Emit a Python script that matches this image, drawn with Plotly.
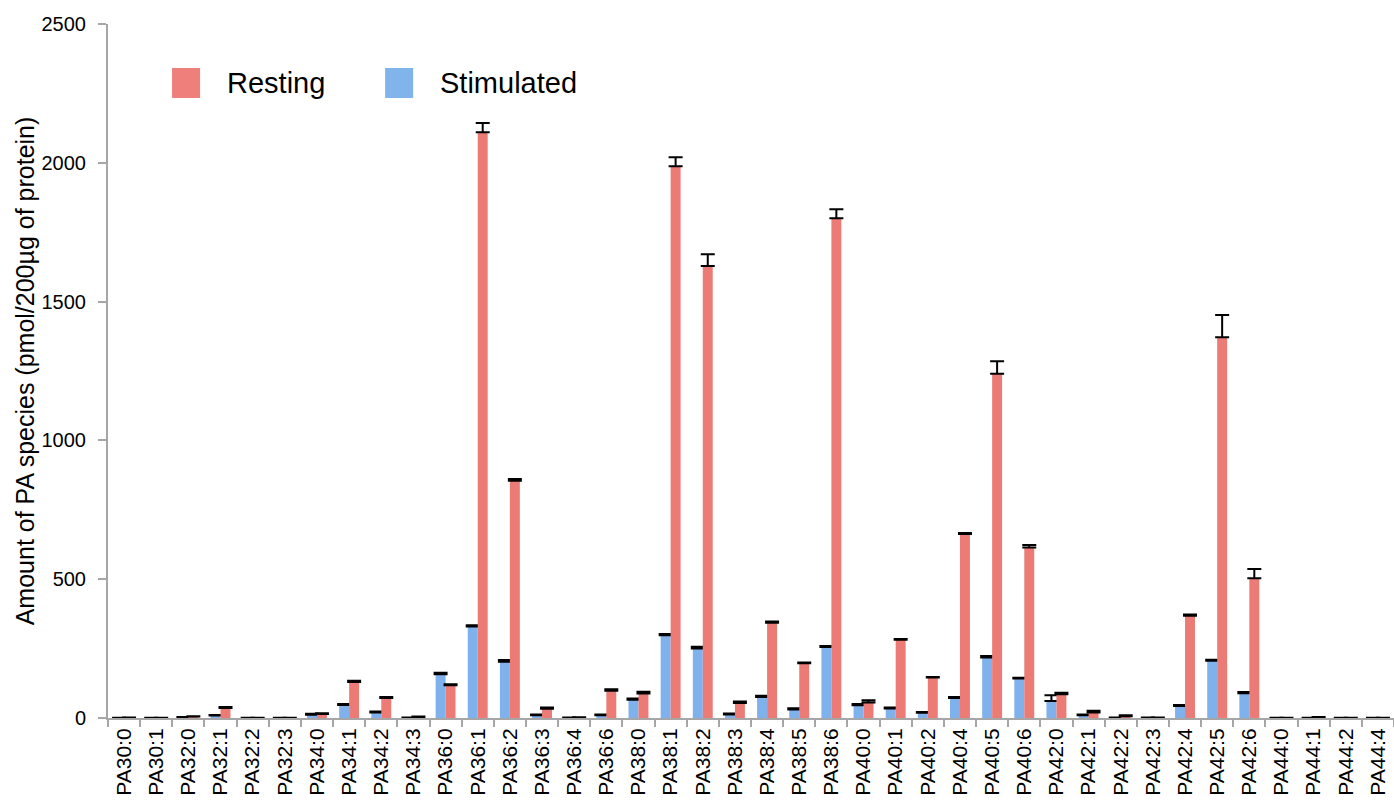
import plotly.graph_objects as go

categories = ["PA30:0", "PA30:1", "PA32:0", "PA32:1", "PA32:2", "PA32:3", "PA34:0", "PA34:1",
              "PA34:2", "PA34:3", "PA36:0", "PA36:1", "PA36:2", "PA36:3", "PA36:4", "PA36:6",
              "PA38:0", "PA38:1", "PA38:2", "PA38:3", "PA38:4", "PA38:5", "PA38:6", "PA40:0",
              "PA40:1", "PA40:2", "PA40:4", "PA40:5", "PA40:6", "PA42:0", "PA42:1", "PA42:2",
              "PA42:3", "PA42:4", "PA42:5", "PA42:6", "PA44:0", "PA44:1", "PA44:2", "PA44:4"]

stimulated = [1, 1, 3, 9, 1, 1, 12, 47, 20, 2, 158, 330, 203, 10, 2, 10, 66, 298, 250, 13,
              76, 31, 256, 46, 34, 19, 72, 218, 142, 61, 10, 2, 2, 43, 206, 89, 1, 1, 1, 1]
stimulated_err = [0, 0, 1, 2, 0, 0, 3, 3, 3, 0, 5, 4, 6, 3, 0, 3, 4, 5, 7, 3,
                  4, 4, 3, 4, 4, 3, 4, 5, 3, 21, 3, 0, 0, 4, 4, 5, 0, 0, 0, 0]

resting = [2, 1, 5, 36, 1, 1, 14, 130, 72, 4, 118, 2110, 855, 33, 3, 98, 88, 1988, 1628, 54,
           343, 197, 1800, 56, 282, 146, 663, 1240, 614, 86, 20, 6, 2, 368, 1372, 503, 1, 3, 1, 1]
resting_err = [0, 0, 1, 4, 0, 0, 3, 4, 4, 1, 4, 33, 6, 5, 0, 6, 7, 32, 43, 5,
               5, 3, 33, 8, 3, 2, 3, 45, 9, 5, 6, 4, 0, 5, 80, 34, 0, 1, 0, 0]

blue = "#7fb2ec"
red = "#ec7b76"

fig = go.Figure()
fig.add_trace(go.Bar(
    x=categories, y=stimulated, name="Stimulated",
    marker=dict(color=blue, line=dict(width=0)),
    error_y=dict(type="data", array=stimulated_err, arrayminus=[0] * len(stimulated_err),
                 symmetric=False, color="black", thickness=2, width=7),
    showlegend=False,
))
fig.add_trace(go.Bar(
    x=categories, y=resting, name="Resting",
    marker=dict(color=red, line=dict(width=0)),
    error_y=dict(type="data", array=resting_err, arrayminus=[0] * len(resting_err),
                 symmetric=False, color="black", thickness=2, width=7),
    showlegend=False,
))

# Legend drawn as swatches + labels (paper coordinates)
legend_items = [("Resting", "#ef7f7b", 0.0498), ("Stimulated", "#82b4ec", 0.2155)]
for label, col, x0 in legend_items:
    fig.add_shape(type="rect", xref="paper", yref="paper",
                  x0=x0, x1=x0 + 0.0218, y0=0.8934, y1=0.9366,
                  fillcolor=col, line=dict(width=0))
    fig.add_annotation(text=label, xref="paper", yref="paper",
                       x=x0 + 0.0218 + 0.0195, y=0.915, xanchor="left", yanchor="middle",
                       showarrow=False, font=dict(size=29, color="black"))

axis_gray = "#a6a6a6"
fig.update_layout(
    width=1394, height=801,
    margin=dict(l=108, r=0, t=24, b=83),
    barmode="group", bargap=0.38, bargroupgap=0,
    plot_bgcolor="white", paper_bgcolor="white",
    font=dict(family="Liberation Sans, Arial, sans-serif", color="black"),
    xaxis=dict(
        type="category", tickangle=-90, tickfont=dict(size=21, color="black"),
        showline=True, linecolor=axis_gray, linewidth=2,
        ticks="outside", tickson="boundaries", ticklen=7, tickcolor=axis_gray, tickwidth=2,
        showgrid=False, zeroline=False, automargin=False,
    ),
    yaxis=dict(
        range=[0, 2500], tickvals=[0, 500, 1000, 1500, 2000, 2500],
        tickfont=dict(size=20, color="black"), ticklabelstandoff=8,
        showline=True, linecolor=axis_gray, linewidth=2,
        ticks="outside", ticklen=8, tickcolor=axis_gray, tickwidth=2,
        showgrid=False, zeroline=False, automargin=False,
        title=dict(text="Amount of PA species (pmol/200µg of protein)",
                   font=dict(size=25, color="black"), standoff=0),
    ),
)

fig.write_html(
    "out.html",
    config={"displayModeBar": False},
    post_script="document.body.style.margin='0';document.body.style.overflow='hidden';",
)
